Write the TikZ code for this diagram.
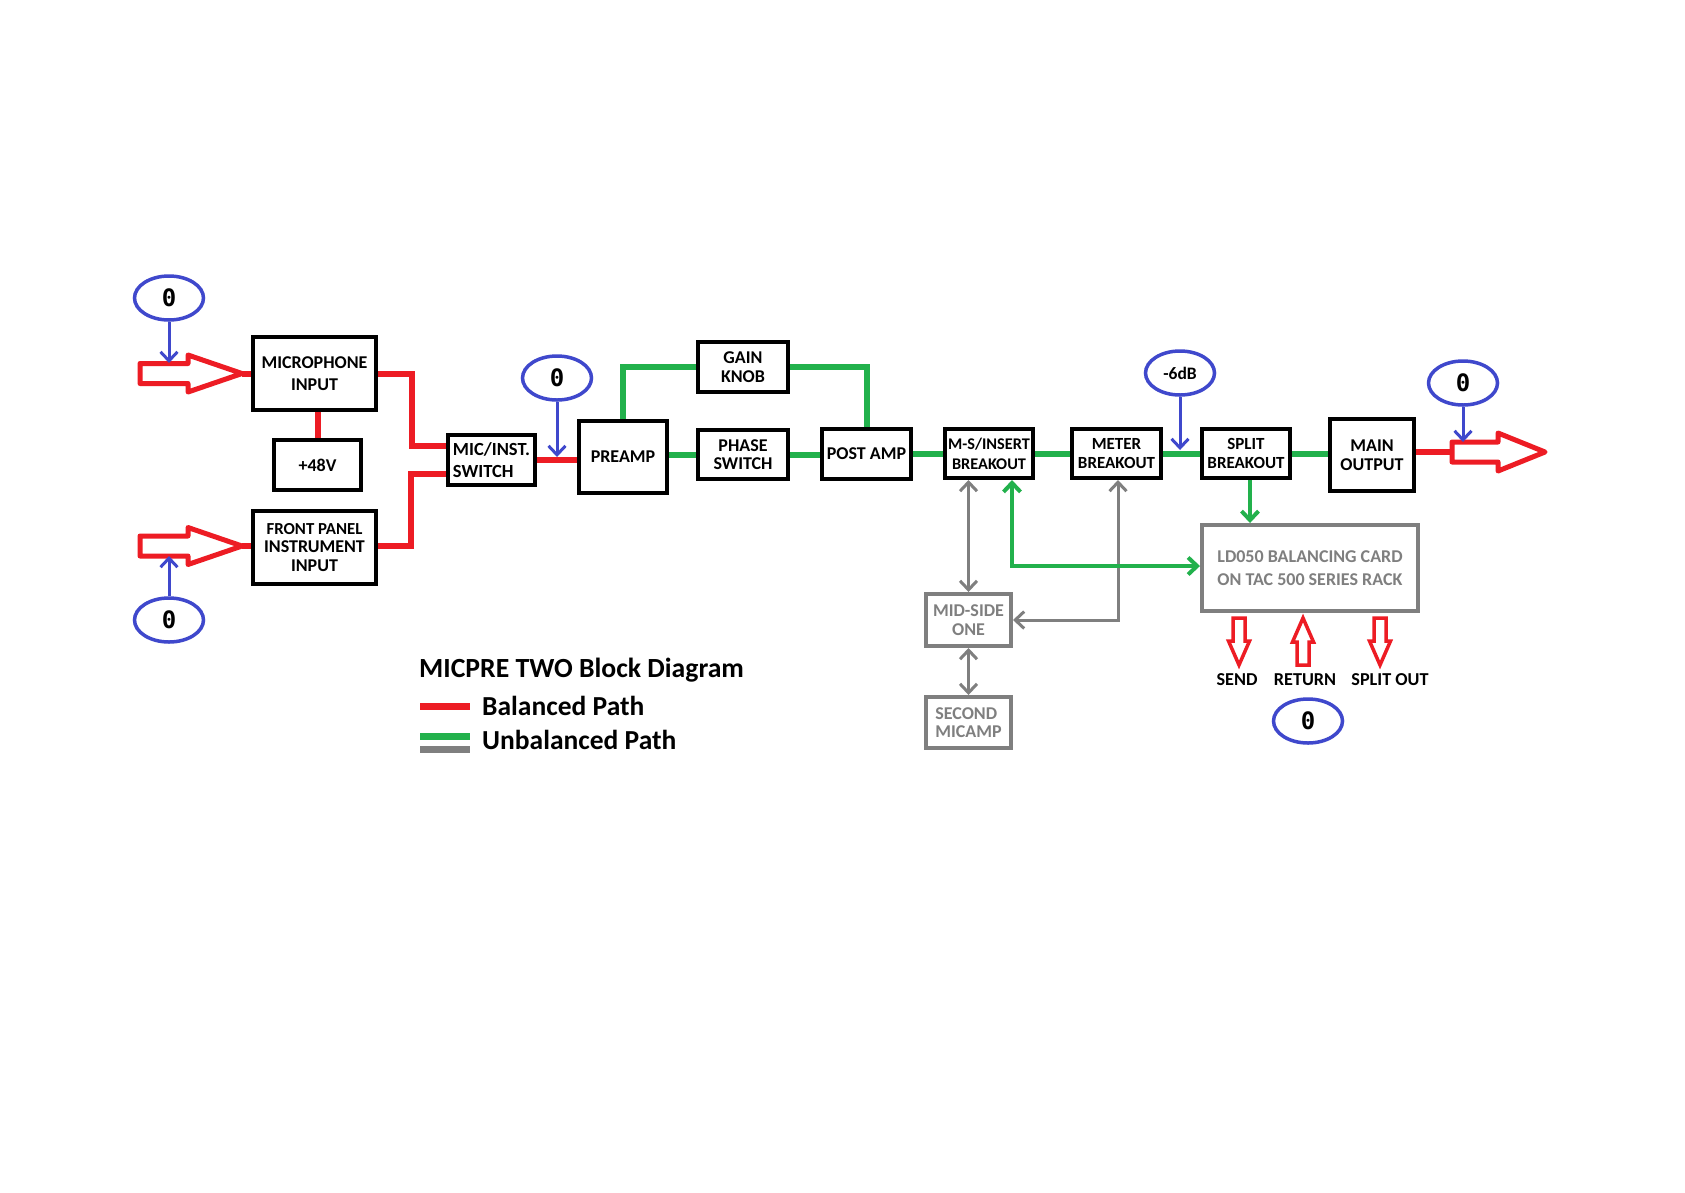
\documentclass[tikz,border=0pt]{standalone}
\usepackage{fontspec}
\setmainfont{Carlito}
\newfontfamily\zerofont{DejaVu Sans Mono}
\usetikzlibrary{shapes.geometric,arrows.meta,calc}
\definecolor{pred}{HTML}{ED1C24}
\definecolor{pgreen}{HTML}{22B14C}
\definecolor{pblue}{HTML}{3F48CC}
\definecolor{pgray}{HTML}{7F7F7F}
\begin{document}
\begin{tikzpicture}[x=1pt,y=-1pt,
  blk/.style={draw=black, line width=4pt, fill=white, inner sep=0pt, align=center,
    font=\bfseries\fontsize{18}{18.5}\selectfont},
  gblk/.style={blk, draw=pgray, text=pgray},
  zero/.style={draw=pblue, line width=3.5pt, ellipse, minimum width=69pt, minimum height=44pt,
    inner sep=0pt, font=\zerofont\bfseries\fontsize{24}{24}\selectfont},
  redline/.style={draw=pred, line width=6pt},
  greenline/.style={draw=pgreen, line width=6pt},
  bluearrow/.style={draw=pblue, line width=3pt, -{Straight Barb[length=9pt,width=17pt]}},
  grayarrow/.style={draw=pgray, line width=3pt,
    {Straight Barb[length=9pt,width=17pt]}-{Straight Barb[length=9pt,width=17pt]}},
  greenarrow/.style={draw=pgreen, line width=4pt},
  hollow/.style={draw=pred, line width=5pt, fill=white, line join=round},
  hollowsmall/.style={draw=pred, line width=3.5pt, fill=white, line join=miter},
  lbl/.style={inner sep=0pt, font=\bfseries\fontsize{18.2}{19}\selectfont},
  legendtext/.style={anchor=west, inner sep=0pt}
]
\fill[white] (0,0) rectangle (1685,1192);
\useasboundingbox (0,0) rectangle (1685,1192);

% boxes
\node[blk, minimum width=123pt, minimum height=73pt] (mic) at (314.5,373.5) {MICROPHONE\\[3.5pt]INPUT};
\node[blk, minimum width=87pt, minimum height=50pt] (p48) at (317.5,465) {+48V};
\node[blk, minimum width=123pt, minimum height=73pt] (front) at (314.5,547.5)
  {{\fontsize{16.8}{18}\selectfont FRONT PANEL}\\INSTRUMENT\\INPUT};
\node[blk, align=left, minimum width=87pt, minimum height=50pt, font=\bfseries\fontsize{18.5}{19}\selectfont] (sw) at (491.5,460) {MIC/INST.\\[3pt]SWITCH};
\node[blk, minimum width=88pt, minimum height=72pt] (pre) at (623,457) {PREAMP};
\node[blk, minimum width=90pt, minimum height=50pt] (gain) at (743,367) {GAIN\\KNOB};
\node[blk, minimum width=90pt, minimum height=49pt] (ph) at (743,454.5) {PHASE\\SWITCH};
\node[blk, minimum width=89pt, minimum height=50pt] (post) at (866.5,454) {POST AMP};
\node[blk, minimum width=88pt, minimum height=49pt, font=\bfseries\fontsize{16.3}{20}\selectfont] (ms) at (989,453.5) {M-S/INSERT\\BREAKOUT};
\node[blk, minimum width=89pt, minimum height=49pt, font=\bfseries\fontsize{17}{18.5}\selectfont] (meter) at (1116.5,453.5) {METER\\BREAKOUT};
\node[blk, minimum width=88pt, minimum height=49pt, font=\bfseries\fontsize{17}{18.5}\selectfont] (split) at (1246,453.5) {SPLIT\\BREAKOUT};
\node[blk, minimum width=84pt, minimum height=72pt] (mainout) at (1372,455) {MAIN\\OUTPUT};
\node[gblk, minimum width=85pt, minimum height=52pt] (mid) at (968.5,620) {MID-SIDE\\ONE};
\node[gblk, align=left, minimum width=85pt, minimum height=51pt] (second) at (968.5,722.5) {SECOND\\MICAMP};
\node[gblk, align=left, minimum width=216pt, minimum height=86pt] (ld) at (1310,568) {LD050 BALANCING CARD\\[4pt]ON TAC 500 SERIES RACK};

% red balanced paths
\coordinate (tip1) at (242,373.5);
\coordinate (tip2) at (242,546);
\coordinate (j1) at (412,446);
\coordinate (j2) at (411,474);
\draw[redline] (tip1) -- (mic.west);
\draw[redline] (tip2) -- (front.west |- tip2);
\draw[redline] (mic.east) -| (j1) -- (j1 -| sw.west);
\draw[redline] (front.east |- tip2) -| (j2) -- (j2 -| sw.west);
\draw[redline] (mic.south -| p48.north) -- (p48.north);
\draw[redline] (sw.east) -- (pre.west |- sw.east);

% green unbalanced main chain
\draw[greenline] (pre.east |- ph.west) -- (ph.west);
\draw[greenline] (pre.north) |- (gain.west);
\draw[greenline] (gain.east) -| (post.north);
\draw[greenline] (ph.east) -- (post.west |- ph.east);
\draw[greenline] (post.east) -- (ms.west |- post.east);
\draw[greenline] (ms.east) -- (meter.west);
\draw[greenline] (meter.east) -- (split.west);
\draw[greenline] (split.east) -- (mainout.west |- split.east);

% output red
\coordinate (tail3) at (1452,452);
\draw[redline] (mainout.east |- tail3) -- (tail3);

% hollow arrows
\draw[hollow] (140,363.5) -- (188,363.5) -- (188,355) -- (tip1) -- (188,392) -- (188,383.5) -- (140,383.5) -- cycle;
\draw[hollow] (140,536) -- (188,536) -- (188,527.5) -- (tip2) -- (188,564.5) -- (188,556) -- (140,556) -- cycle;
\draw[hollow] (tail3) ++(0,-10) -- (1498,442) -- (1498,433) -- (1545,452) -- (1498,471) -- (1498,462) -- (1452,462) -- cycle;

% small hollow arrows under LD050
\draw[hollowsmall] (1233,618) -- (1245,618) -- (1245,641) -- (1249.5,641) -- (1239,665) -- (1228.5,641) -- (1233,641) -- cycle;
\draw[hollowsmall] (1297,665) -- (1309,665) -- (1309,642) -- (1313.5,642) -- (1303,618) -- (1292.5,642) -- (1297,642) -- cycle;
\draw[hollowsmall] (1374,618) -- (1386,618) -- (1386,641) -- (1390.5,641) -- (1380,665) -- (1369.5,641) -- (1374,641) -- cycle;
\node[lbl] (send) at (1237,680) {SEND};
\node[lbl] (ret) at (1305,680) {RETURN};
\node[lbl] (sout) at (1390,680) {SPLIT OUT};

% gray and green side connectors
\coordinate (gc) at (1118,620);
\draw[grayarrow] (meter.south -| gc) -- (gc) -- (mid.east |- gc);
\draw[grayarrow] (ms.south -| mid.north) -- (mid.north);
\draw[grayarrow] (mid.south) -- (second.north);
\coordinate (gr) at (1012,566);
\draw[greenarrow, {Straight Barb[length=9pt,width=17pt]}-{Straight Barb[length=9pt,width=17pt]}]
  (ms.south -| gr) -- (gr) -- (ld.west |- gr);
\draw[greenarrow, -{Straight Barb[length=9pt,width=17pt]}] (1250,480) -- (1250,523);

% blue level ellipses
\node[zero] (z1) at (169,298) {0};
\node[zero] (z2) at (169,620) {0};
\node[zero] (z3) at (557,378) {0};
\node[zero, font=\bfseries\fontsize{17.5}{18}\selectfont] (z4) at (1180,373) {-6dB};
\node[zero] (z5) at (1463,383) {0};
\node[zero] (z6) at (1308,721) {0};
\coordinate (b1) at (169,363);
\coordinate (b2) at (169,556);
\coordinate (b3) at (557,457);
\coordinate (b4) at (1180,450);
\coordinate (b5) at (1463,442);
\draw[bluearrow] (z1.south) -- (b1);
\draw[bluearrow] (z2.north) -- (b2);
\draw[bluearrow] (z3.south) -- (b3);
\draw[bluearrow] (z4.south) -- (b4);
\draw[bluearrow] (z5.south) -- (b5);

% legend
\node[legendtext, font=\bfseries\fontsize{27.7}{28}\selectfont] (title) at (419,670) {MICPRE TWO Block Diagram};
\draw[pred, line width=7pt] (420,706) -- (470,706);
\draw[pgreen, line width=7pt] (420,736.5) -- (470,736.5);
\draw[pgray, line width=7pt] (420,749.5) -- (470,749.5);
\node[legendtext, font=\bfseries\fontsize{27.5}{28}\selectfont] (bal) at (482,706) {Balanced Path};
\node[legendtext, font=\bfseries\fontsize{27.5}{28}\selectfont] (unbal) at (482,740) {Unbalanced Path};
\end{tikzpicture}
\end{document}
